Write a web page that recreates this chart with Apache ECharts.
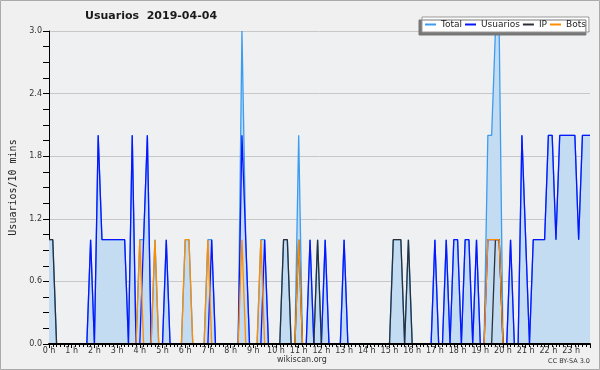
<!DOCTYPE html>
<html>
<head>
<meta charset="utf-8">
<script src="https://cdn.jsdelivr.net/npm/echarts@6/dist/echarts.min.js"></script>
<style>
  html, body { margin: 0; padding: 0; background: #f0f0f0; }
  #chart { width: 600px; height: 370px; }
</style>
</head>
<body>
<div id="chart"></div>
<script>
// one value per 10 minutes, 144 slots (4 hours per line)
const hourLabels = ['0 h', '1 h', '2 h', '3 h', '4 h', '5 h', '6 h', '7 h', '8 h', '9 h', '10 h', '11 h',
  '12 h', '13 h', '14 h', '15 h', '16 h', '17 h', '18 h', '19 h', '20 h', '21 h', '22 h', '23 h']

const total = [
  1,1,0,0,0,0, 0,0,0,0,0,1, 0,2,1,1,1,1, 1,1,1,0,2,0,
  1,1,2,0,1,0, 0,1,0,0,0,0, 1,1,0,0,0,0, 1,1,0,0,0,0,
  0,0,0,3,1,0, 0,0,1,1,0,0, 0,0,1,1,0,0, 2,0,0,1,0,1,
  0,1,0,0,0,0, 1,0,0,0,0,0, 0,0,0,0,0,0, 0,1,1,1,0,1,
  0,0,0,0,0,0, 1,0,0,1,0,1, 1,0,1,1,0,1, 0,0,2,2,3,3,
  0,0,1,0,0,2, 1,0,1,1,1,1, 2,2,1,2,2,2, 2,2,1,2,2,2
]
const usuarios = [
  0,0,0,0,0,0, 0,0,0,0,0,1, 0,2,1,1,1,1, 1,1,1,0,2,0,
  0,1,2,0,0,0, 0,1,0,0,0,0, 0,0,0,0,0,0, 0,1,0,0,0,0,
  0,0,0,2,1,0, 0,0,0,1,0,0, 0,0,0,0,0,0, 0,0,0,1,0,0,
  0,1,0,0,0,0, 1,0,0,0,0,0, 0,0,0,0,0,0, 0,0,0,0,0,0,
  0,0,0,0,0,0, 1,0,0,1,0,1, 1,0,1,1,0,1, 0,0,1,1,1,1,
  0,0,1,0,0,2, 1,0,1,1,1,1, 2,2,1,2,2,2, 2,2,1,2,2,2
]
const ip = [
  1,1,0,0,0,0, 0,0,0,0,0,0, 0,0,0,0,0,0, 0,0,0,0,0,0,
  0,0,0,0,0,0, 0,0,0,0,0,0, 0,0,0,0,0,0, 0,0,0,0,0,0,
  0,0,0,0,0,0, 0,0,0,0,0,0, 0,0,1,1,0,0, 1,0,0,0,0,1,
  0,0,0,0,0,0, 0,0,0,0,0,0, 0,0,0,0,0,0, 0,1,1,1,0,1,
  0,0,0,0,0,0, 0,0,0,0,0,0, 0,0,0,0,0,0, 0,0,0,0,1,1,
  0,0,0,0,0,0, 0,0,0,0,0,0, 0,0,0,0,0,0, 0,0,0,0,0,0
]
const bots = [
  0,0,0,0,0,0, 0,0,0,0,0,0, 0,0,0,0,0,0, 0,0,0,0,0,0,
  1,0,0,0,1,0, 0,0,0,0,0,0, 1,1,0,0,0,0, 1,0,0,0,0,0,
  0,0,0,1,0,0, 0,0,1,0,0,0, 0,0,0,0,0,0, 1,0,0,0,0,0,
  0,0,0,0,0,0, 0,0,0,0,0,0, 0,0,0,0,0,0, 0,0,0,0,0,0,
  0,0,0,0,0,0, 0,0,0,0,0,0, 0,0,0,0,0,0, 0,0,1,1,1,1,
  0,0,0,0,0,0, 0,0,0,0,0,0, 0,0,0,0,0,0, 0,0,0,0,0,0
]

const font = 'DejaVu Sans'
const toPairs = arr => arr.map((v, i) => [i, v])

const chart = echarts.init(document.getElementById('chart'))

const lineSeries = (name, data, color, extra) => Object.assign({
  name: name,
  type: 'line',
  data: toPairs(data),
  color: color,
  symbol: 'none',
  lineStyle: { color: color, width: 1.3 },
  emphasis: { disabled: true }
}, extra || {})

const option = {
  animation: false,
  backgroundColor: '#f0f0f0',
  title: {
    text: 'Usuarios  2019-04-04',
    left: 85,
    top: 11,
    padding: 0,
    textStyle: { fontFamily: font, fontSize: 11, fontWeight: 'bold', color: '#1a1a1a' }
  },
  legend: {
    left: 422,
    top: 17,
    icon: 'rect',
    itemWidth: 11,
    itemHeight: 2,
    itemGap: 3,
    padding: [3, 3],
    backgroundColor: '#ffffff',
    borderColor: '#999999',
    borderWidth: 1,
    shadowColor: '#777777',
    shadowBlur: 0,
    shadowOffsetX: -3,
    shadowOffsetY: 3,
    textStyle: { fontFamily: font, fontSize: 9, color: '#222' },
    data: ['Total', 'Usuarios', 'IP', 'Bots']
  },
  grid: {
    left: 46,
    right: 10,
    top: 31,
    bottom: 26,
    show: true,
    backgroundColor: '#eef0f2',
    borderWidth: 0
  },
  xAxis: [{
    type: 'value',
    min: 0,
    max: 143,
    interval: 1,
    position: 'bottom',
    z: 5,
    axisLine: { lineStyle: { color: '#000', width: 2 } },
    axisTick: { length: 3, lineStyle: { color: '#000' } },
    axisLabel: {
      margin: 3,
      fontFamily: font,
      fontSize: 8,
      color: '#333',
      formatter: v => (v % 6 === 0 ? hourLabels[v / 6] : '')
    },
    splitLine: { show: false }
  }, {
    type: 'value',
    min: 0,
    max: 143,
    interval: 6,
    position: 'bottom',
    z: 5,
    axisLine: { show: false },
    axisTick: { length: 4, lineStyle: { color: '#000' } },
    axisLabel: { show: false },
    splitLine: { show: false }
  }],
  yAxis: {
    type: 'value',
    min: 0,
    max: 3,
    interval: 0.6,
    name: 'Usuarios/10 mins',
    nameLocation: 'middle',
    nameRotate: 90,
    nameGap: 31,
    nameTextStyle: { fontFamily: 'DejaVu Sans Mono', fontSize: 10, color: '#222' },
    axisLine: { show: true, lineStyle: { color: '#000', width: 1 } },
    axisTick: { show: true, length: 6, lineStyle: { color: '#000' } },
    minorTick: { show: true, splitNumber: 4, length: 6, lineStyle: { color: '#000' } },
    axisLabel: {
      margin: 7,
      fontFamily: font,
      fontSize: 8,
      color: '#333',
      formatter: v => v.toFixed(1)
    },
    splitLine: { lineStyle: { color: '#c8c8c8', width: 1 } }
  },
  graphic: [
    {
      type: 'rect',
      silent: true,
      shape: { x: 0.5, y: 0.5, width: 599, height: 369 },
      style: { fill: 'none', stroke: '#aaaaaa', lineWidth: 1 }
    },
    {
      type: 'text',
      left: 277,
      top: 356,
      style: { text: 'wikiscan.org', fontFamily: font, fontSize: 8, fill: '#333' }
    },
    {
      type: 'text',
      right: 10,
      top: 358,
      style: { text: 'CC BY-SA 3.0', fontFamily: font, fontSize: 6.5, fill: '#333' }
    }
  ],
  series: [
    lineSeries('Total', total, '#3b9cf0', { areaStyle: { color: '#c4dcf1', opacity: 1 } }),
    lineSeries('Usuarios', usuarios, '#0a14ff'),
    lineSeries('IP', ip, '#2b3038'),
    lineSeries('Bots', bots, '#ff8c00')
  ]
}

chart.setOption(option)
</script>
</body>
</html>
